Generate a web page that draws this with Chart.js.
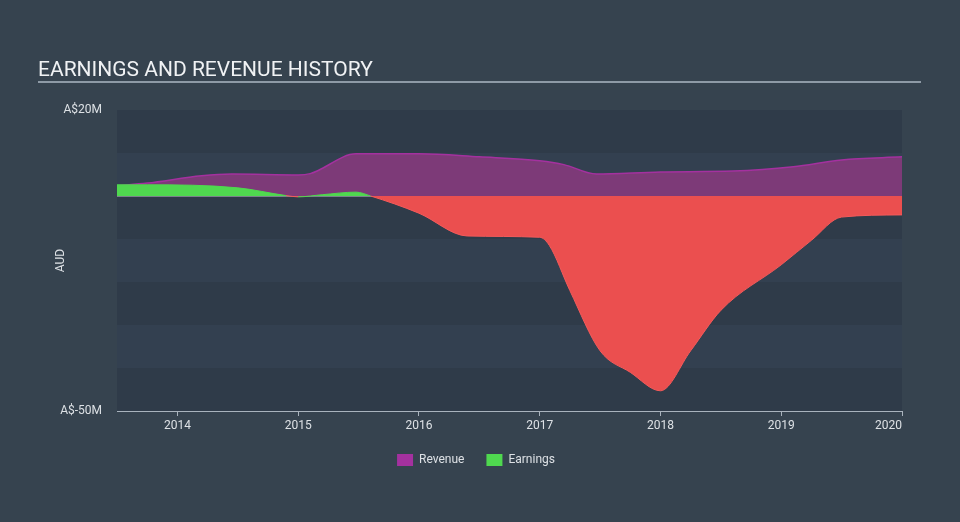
<!DOCTYPE html>
<html>
<head>
<meta charset="utf-8">
<script src="https://cdn.jsdelivr.net/npm/chart.js@4"></script>
<style>
  html, body { margin: 0; padding: 0; background: #36434f; }
  #wrap { width: 960px; height: 522px; }
</style>
</head>
<body>
<div id="wrap"><canvas id="chart" width="960" height="522"></canvas></div>
<script>
// --- DONNÉES ---
const years = [2014, 2015, 2016, 2017, 2018, 2019, 2020];

// revenu (millions AUD)
const revenueX = [2013.5, 2013.75, 2014.2, 2014.45, 2015.0, 2015.1, 2015.48, 2016.0, 2016.5, 2017.0, 2017.2, 2017.47, 2018.0, 2018.6, 2019.1, 2019.5, 2020.0];
const revenueY = [2.4, 3.0, 4.7, 5.1, 4.9, 5.2, 9.8, 9.8, 9.1, 8.2, 7.3, 5.1, 5.6, 5.8, 6.8, 8.4, 9.1];

// résultat (millions AUD)
const earningsX = [2013.5, 2013.75, 2014.5, 2014.9, 2015.0, 2015.2, 2015.48, 2015.6, 2016.0, 2016.4, 2017.0, 2017.08, 2017.25, 2017.5, 2017.75, 2018.0, 2018.25, 2018.5, 2019.0, 2019.25, 2019.5, 2020.0];
const earningsY = [2.6, 2.6, 1.9, 0.1, -0.2, 0.3, 0.9, 0.0, -4.0, -9.3, -9.6, -11.5, -22, -36, -41, -45.3, -36, -26.6, -16, -10.3, -4.9, -4.4];

const yTicks = [20, -50];

const toPoints = (xs, ys) => xs.map((x, i) => ({ x, y: ys[i] }));

// --- PLUGIN : bandes + titre ---
const decor = {
  id: 'decor',
  beforeDraw(chart) {
    const { ctx, chartArea: a, scales: { y } } = chart;
    ctx.save();
    for (let v = 20; v > -50; v -= 10) {
      const top = y.getPixelForValue(v), bot = y.getPixelForValue(v - 10);
      ctx.fillStyle = ((20 - v) / 10) % 2 === 0 ? '#2f3b49' : '#334050';
      ctx.fillRect(a.left, top, a.right - a.left, bot - top);
    }
    ctx.fillStyle = '#f0f2f4';
    ctx.font = '21px Roboto';
    ctx.textBaseline = 'alphabetic';
    ctx.fillText('EARNINGS AND REVENUE HISTORY', 38, 76);
    ctx.fillStyle = '#8e9aa6';
    ctx.fillRect(38, 81, 883, 2);
    ctx.restore();
  }
};

new Chart(document.getElementById('chart'), {
  type: 'line',
  data: {
    datasets: [
      {
        label: 'Revenue',
        data: toPoints(revenueX, revenueY),
        borderColor: '#a4319f',
        backgroundColor: '#7d3a78',
        borderWidth: 1.5,
        fill: 'origin',
        pointRadius: 0,
        cubicInterpolationMode: 'monotone',
        order: 2
      },
      {
        label: 'Earnings',
        data: toPoints(earningsX, earningsY),
        borderColor: '#4fd84f',
        backgroundColor: '#4fd84f',
        borderWidth: 1,
        segment: {
          borderColor: c => (c.p0.parsed.y + c.p1.parsed.y) / 2 < 0 ? '#f45a5a' : '#4fd84f'
        },
        fill: { target: 'origin', above: '#4fd84f', below: '#eb4f4f' },
        pointRadius: 0,
        cubicInterpolationMode: 'monotone',
        order: 1
      }
    ]
  },
  options: {
    responsive: false,
    animation: false,
    layout: { padding: { left: 50, right: 58, top: 110, bottom: 46 } },
    plugins: {
      tooltip: { enabled: false },
      legend: {
        position: 'bottom',
        labels: {
          color: '#dde1e5',
          font: { family: 'Roboto', size: 12 },
          boxWidth: 16,
          boxHeight: 12,
          padding: 22,
          generateLabels: chart => chart.data.datasets.map((d, i) => ({
            text: d.label,
            fillStyle: i === 0 ? '#a4319f' : '#4fd84f',
            strokeStyle: i === 0 ? '#a4319f' : '#4fd84f',
            lineWidth: 0,
            fontColor: '#dde1e5',
            datasetIndex: i
          }))
        }
      }
    },
    scales: {
      x: {
        type: 'linear',
        min: 2013.5,
        max: 2020,
        afterBuildTicks: s => { s.ticks = years.map(v => ({ value: v })); },
        afterFit: s => { s.height = 21; },
        ticks: {
          color: '#dde1e5',
          font: { family: 'Roboto', size: 12 },
          padding: 3,
          maxRotation: 0,
          callback: v => v === 2020 ? '2020\u2007\u2007\u2007\u2007' : String(v)
        },
        grid: { drawOnChartArea: false, drawTicks: true, tickLength: 5, color: '#a9b3bd' },
        border: { display: true, color: '#a9b3bd', width: 1 }
      },
      y: {
        min: -50,
        max: 20,
        afterBuildTicks: s => {
          const t = [];
          for (let v = 20; v >= -50; v -= 10) t.push({ value: v });
          s.ticks = t;
        },
        afterFit: s => { s.width = 67; },
        ticks: {
          color: '#dde1e5',
          font: { family: 'Roboto', size: 12 },
          padding: 15,
          callback: v => yTicks.includes(v) ? 'A$' + v + 'M' : ''
        },
        title: {
          display: true,
          text: 'AUD',
          color: '#dde1e5',
          font: { family: 'Roboto', size: 12 },
          padding: 4
        },
        grid: {
          drawTicks: false,
          color: c => c.tick && c.tick.value === 0 ? 'rgba(225,228,232,0.85)' : 'transparent',
          lineWidth: 1.5
        },
        border: { display: false }
      }
    }
  },
  plugins: [decor]
});
</script>
</body>
</html>
